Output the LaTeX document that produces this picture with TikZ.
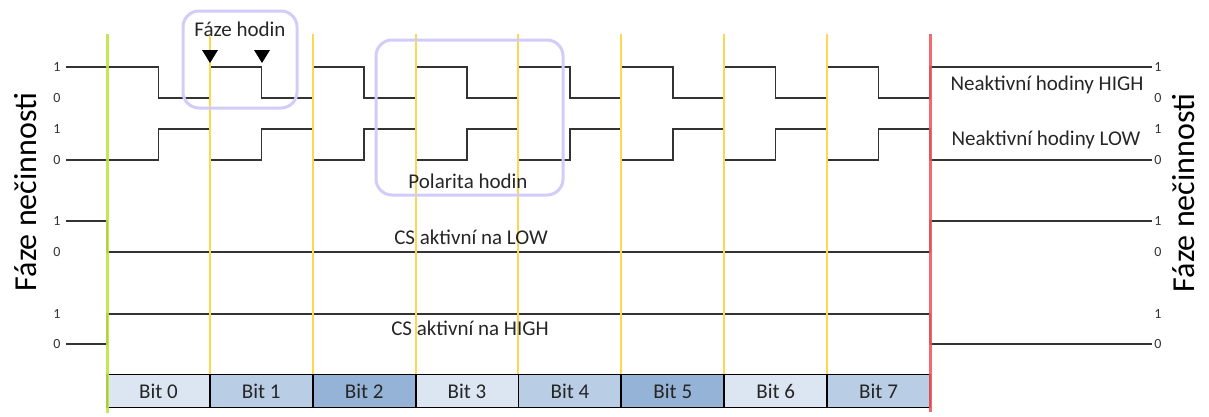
\documentclass[tikz,border=0pt]{standalone}
\usepackage{fontspec}
\setmainfont{Carlito}
\begin{document}
\begin{tikzpicture}[x=1pt,y=-1pt,
  sig/.style={draw=black!80,line width=1.4pt},
  lvl/.style={font=\fontsize{14}{14}\selectfont,text=black!80,inner sep=0pt},
  lbl/.style={font=\fontsize{21}{21}\selectfont,text=black!85,inner sep=0pt},
  phase/.style={font=\fontsize{32}{32}\selectfont,inner sep=0pt,rotate=90},
  bitbox/.style={draw=black,line width=1.8pt,minimum width=102.9pt,minimum height=33pt,
    inner sep=0pt,font=\fontsize{21}{21}\selectfont,text=black!85},
  frame/.style={draw=violet!25!blue!20,line width=3pt,rounded corners=16pt},
  edge/.style={draw={rgb,255:red,255;green,214;blue,80},line width=1.6pt},
  tick/.style={fill=black,draw=none}]
\useasboundingbox (0,0) rectangle (1209,416);
\def\bw{102.875}

% clock, idle high
\draw[sig] (66,67) foreach \i in {0,...,7}{
  -- ({107+\i*\bw+\bw/2},67) -- ++(0,31) -- ({107+(\i+1)*\bw},98) -- ++(0,-31)} -- (1152,67);
% clock, idle low
\draw[sig] (66,160) foreach \i in {0,...,7}{
  -- ({107+\i*\bw+\bw/2},160) -- ++(0,-31) -- ({107+(\i+1)*\bw},129) -- ++(0,31)} -- (1152,160);
% chip select, active low and active high
\draw[sig] (66,221) -- (107,221) -- (107,252) -- (930,252) -- (930,221) -- (1152,221);
\draw[sig] (66,344) -- (107,344) -- (107,314) -- (930,314) -- (930,344) -- (1152,344);

% bit cell edges
\foreach \x in {210,313,416,518,621,724,827}
  \draw[edge] (\x,34) -- (\x,374);

% bit cells
\definecolor{bitA}{HTML}{DCE6F2}
\definecolor{bitB}{HTML}{B9CDE5}
\definecolor{bitC}{HTML}{95B3D7}
\foreach \i/\c in {0/bitA,1/bitB,2/bitC,3/bitA,4/bitB,5/bitC,6/bitA,7/bitB}
  \node[bitbox,fill=\c] (bit\i) at ({107+\i*\bw+\bw/2},391) {Bit \i};

% start and end of the transfer
\draw[draw={rgb,255:red,190;green,228;blue,70},line width=3pt,opacity=0.9] (107,34) -- (107,413);
\draw[draw={rgb,255:red,238;green,90;blue,95},line width=3pt,opacity=0.9] (930,34) -- (930,412);

% level marks
\foreach \y/\t in {67/1,98/0,129/1,160/0,221/1,252/0,314/1,344/0}{
  \node[lvl] at (57,\y) {\t};
  \node[lvl] at (1158,\y) {\t};
}

% clock phase
\draw[frame] (183,11) rectangle (297,108);
\node[lbl] (phaselbl) at (240,29) {Fáze hodin};
\fill[tick] (202,50) -- (218,50) -- (210,63) -- cycle;
\fill[tick] (254,50) -- (270,50) -- (262,63) -- cycle;

% clock polarity
\draw[frame] (376,40) rectangle (563,195);
\node[lbl] (pollbl) at (468,181) {Polarita hodin};

% signal names
\node[lbl] (idlehigh) at (1047,85) {Neaktivní hodiny HIGH};
\node[lbl] (idlelow) at (1046,140) {Neaktivní hodiny LOW};
\node[lbl] (cslow) at (471,237) {CS aktivní na LOW};
\node[lbl] (cshigh) at (470,328) {CS aktivní na HIGH};

% idle phase
\node[phase] (idleL) at (26,192) {Fáze nečinnosti};
\node[phase] (idleR) at (1184,193) {Fáze nečinnosti};
\end{tikzpicture}
\end{document}
